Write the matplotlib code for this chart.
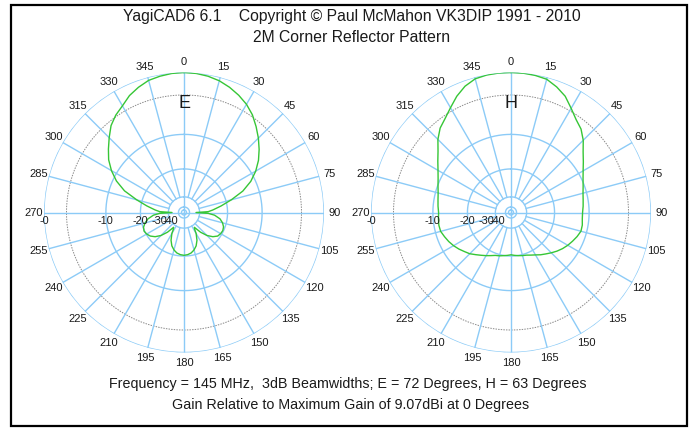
import numpy as np
import matplotlib
matplotlib.use('Agg')
import matplotlib.pyplot as plt
from matplotlib.patches import Rectangle

# ---------------- data ----------------
angles_e = [0, 5, 10, 15, 20, 25, 30, 35, 40, 45, 50, 55, 60, 65, 70, 75, 80, 85, 88, 90,
            92, 95, 100, 105, 110, 115, 120, 125, 130, 135, 140, 145, 148, 150, 155, 160,
            165, 170, 175, 180, 185, 190, 195, 200, 205, 210, 212, 215, 220, 225, 230, 235,
            240, 245, 250, 255, 260, 265, 268, 270, 272, 275, 280, 285, 290, 295, 300, 305,
            310, 315, 320, 325, 330, 335, 340, 345, 350, 355, 360]
gain_e = [0.0, -0.05, -0.2, -0.45, -0.85, -1.35, -1.95, -2.75, -3.8, -4.9, -6.1, -7.4, -9.0,
          -11.0, -13.8, -18.0, -22.5, -27.0, -30.0, -42.0,
          -30.0, -26.0, -23.0, -21.5, -20.6, -20.3, -20.5, -21.0, -22.5, -25.0, -29.0, -35.0,
          -33.0, -30.0, -26.0, -23.5, -22.0, -21.0, -20.5, -20.3, -20.5, -21.0, -22.0, -23.5,
          -26.0, -30.0, -33.0, -35.0, -29.0, -25.0, -22.5, -21.0, -20.2, -19.8, -20.2, -21.3,
          -23.0, -26.0, -30.0, -42.0, -30.0, -27.0, -22.5, -18.0, -13.6, -10.8, -8.8, -7.2,
          -6.0, -4.8, -3.6, -2.8, -2.2, -1.4, -0.85, -0.4, -0.2, -0.05, 0.0]

angles_h = [0, 5, 10, 15, 20, 25, 30, 35, 40, 45, 50, 55, 60, 65, 70, 75, 80, 85, 90, 95,
            100, 105, 110, 115, 120, 125, 130, 135, 140, 145, 150, 155, 160, 165, 170, 175,
            180, 185, 190, 195, 200, 205, 210, 215, 220, 225, 230, 235, 240, 245, 250, 255,
            260, 265, 270, 275, 280, 285, 290, 295, 300, 305, 310, 315, 320, 325, 330, 335,
            340, 345, 350, 355, 360]
gain_h = [0.0, -0.02, -0.1, -0.25, -0.8, -1.5, -2.6, -3.6, -4.3, -5.4, -6.8, -7.9, -8.9,
          -9.7, -10.3, -10.8, -11.1, -11.3, -11.5, -11.5, -11.3, -11.3, -11.8, -12.4, -13.0,
          -13.7, -14.5, -15.4, -16.3, -17.1, -18.0, -18.7, -19.3, -19.6, -19.9, -20.2, -20.5,
          -20.2, -19.9, -19.5, -19.2, -18.5, -17.7, -16.9, -16.0, -15.0, -14.3, -13.5, -12.8,
          -12.2, -11.7, -11.2, -11.1, -11.2, -11.3, -11.1, -10.9, -10.6, -10.1, -9.5, -8.7,
          -7.7, -6.6, -5.2, -4.1, -3.4, -2.5, -1.5, -0.7, -0.2, -0.05, 0.0, 0.0]

angle_ticks = list(range(0, 360, 15))
ring_label_text = ['-0', '-10', '-20', '-30', '-40']
ring_label_db = [0, -10, -20, -30, -40]

title1 = 'YagiCAD6 6.1    Copyright \u00a9 Paul McMahon VK3DIP 1991 - 2010'
title2 = '2M Corner Reflector Pattern'
foot1 = 'Frequency = 145 MHz,  3dB Beamwidths; E = 72 Degrees, H = 63 Degrees'
foot2 = 'Gain Relative to Maximum Gain of 9.07dBi at 0 Degrees'
panel_names = ['E', 'H']

# ---------------- style ----------------
plt.rcParams['font.family'] = ['Liberation Sans', 'DejaVu Sans']
GRID = '#8ccbf7'
GREEN = '#36c636'
TXT = '#1a1a1a'
ring_levels = [0, -10, -20, -37.5, -55, -68]   # grid circle levels (dB)
spoke_inner = -37.5


def fwd(db):
    return np.power(0.89, -np.asarray(db, dtype=float) / 2.0)


def inv(s):
    s = np.clip(np.asarray(s, dtype=float), 1e-12, None)
    return -2.0 * np.log(s) / np.log(0.89)


fig = plt.figure(figsize=(6.93, 4.28), dpi=100)
fig.patch.set_facecolor('white')

positions = [[44 / 693, 75.5 / 428, 280 / 693, 280 / 428],
             [371 / 693, 75.5 / 428, 280 / 693, 280 / 428]]

series = [(angles_e, gain_e), (angles_h, gain_h)]

for k in range(2):
    ax = fig.add_axes(positions[k], projection='polar')
    ax.set_theta_zero_location('N')
    ax.set_theta_direction(-1)
    ax.set_rscale('function', functions=(fwd, inv))
    ax.set_rlim(-120, 0)
    ax.grid(False)
    ax.set_xticks([])
    ax.set_yticks([])
    ax.spines['polar'].set_visible(False)
    ax.set_facecolor('none')

    th = np.radians(np.arange(0, 361, 1))
    for lev in ring_levels:
        ax.plot(th, np.full_like(th, lev), color=GRID, lw=1.0, zorder=1)
    ax.plot(th, np.full_like(th, -3.0), color='#8a8a8a', lw=0.7,
            linestyle=(0, (1.5, 1.2)), zorder=1)
    for a in angle_ticks:
        t = np.radians(a)
        inner = -120 if a % 90 == 0 else spoke_inner
        ax.plot([t, t], [inner, 0], color=GRID, lw=1.0, zorder=1)

    ang, g = series[k]
    ax.plot(np.radians(ang), g, color=GREEN, lw=1.0, zorder=3)

    for a in angle_ticks:
        ax.text(np.radians(a), 1.2, str(a), ha='center', va='center',
                fontsize=8, color=TXT, clip_on=False)

    for txt, lev in zip(ring_label_text, ring_label_db):
        ax.annotate(txt, xy=(np.radians(270), lev), xytext=(0, -6),
                    textcoords='offset points', ha='center', va='center',
                    fontsize=7.8, color=TXT, annotation_clip=False)

    ax.text(0.5, 0.888, panel_names[k], transform=ax.transAxes, ha='center',
            va='center', fontsize=13, color=TXT)

fig.text(0.508, 1 - 16 / 428, title1, ha='center', va='center', fontsize=11.3, color=TXT)
fig.text(0.508, 1 - 38 / 428, title2, ha='center', va='center', fontsize=11.3, color=TXT)
fig.text(0.502, 1 - 384 / 428, foot1, ha='center', va='center', fontsize=10.3, color=TXT)
fig.text(0.506, 1 - 405 / 428, foot2, ha='center', va='center', fontsize=10.3, color=TXT)

fig.add_artist(Rectangle((11 / 693, 2.5 / 428), 676 / 693, 421 / 428,
                         transform=fig.transFigure, fill=False, edgecolor='black',
                         lw=1.6))

fig.savefig('out.png', dpi=100, facecolor='white')
